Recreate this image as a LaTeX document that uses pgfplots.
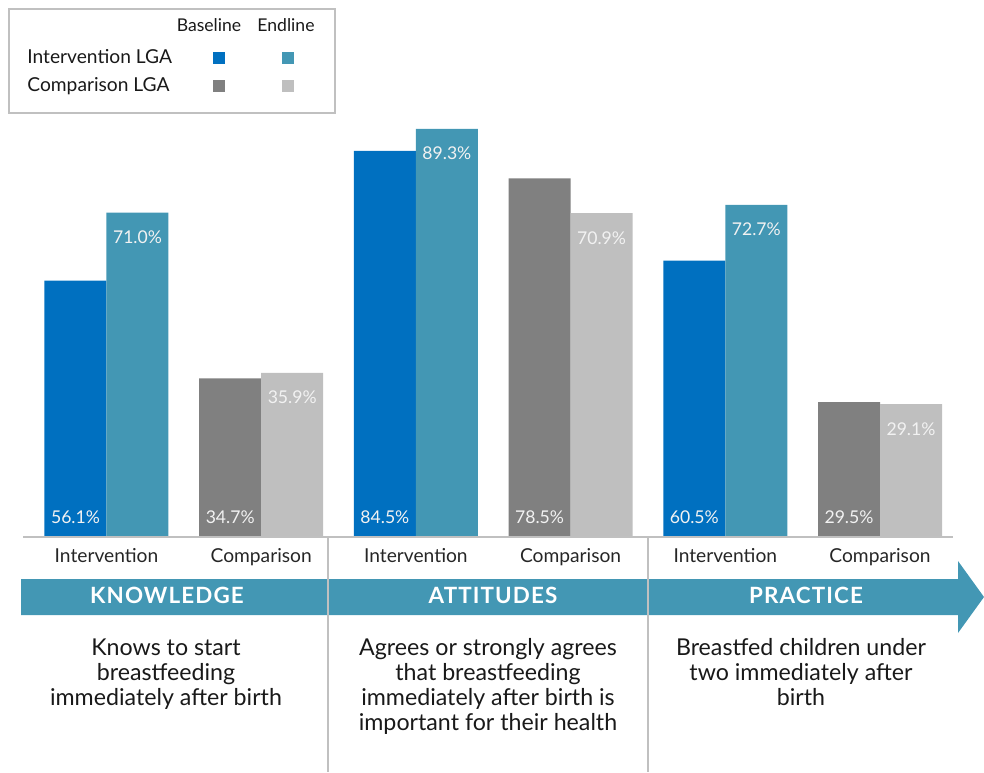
\documentclass[border=0pt]{standalone}
\usepackage{fontspec}
\setmainfont{Lato}
\usepackage{pgfplots}
\pgfplotsset{compat=1.18}
\definecolor{cblue}{HTML}{0070C0}
\definecolor{cteal}{HTML}{4397B4}
\definecolor{cgray}{HTML}{808080}
\definecolor{clight}{HTML}{BFBFBF}
\definecolor{cline}{HTML}{C0C0C0}
\definecolor{lbl}{HTML}{F2F2F2}
\begin{document}
\begin{tikzpicture}
\useasboundingbox (0,0) rectangle (492pt,386pt);
\begin{axis}[
  at={(0,0)}, anchor=south west,
  scale only axis, width=492pt, height=386pt,
  xmin=-0.6884, xmax=5.6723, ymin=-51.42, ymax=117.51,
  axis x line*=middle, axis y line=none,
  x axis line style={draw=none},
  xtick={0,1,2,3,4,5},
  xticklabels={Intervention,Comparison,Intervention,Comparison,Intervention,Comparison},
  major tick length=0pt,
  xticklabel style={font=\fontsize{9.6}{11}\selectfont, anchor=base, yshift=-12.5pt, text=black!85},
  ytick=\empty,
  ybar, bar width=31pt,
  clip=false,
  /pgf/number format/assume math mode=true,
  nodes near coords={\pgfmathprintnumber[fixed,fixed zerofill,precision=1,assume math mode=true]{\pgfplotspointmeta}\%},
  every node near coord/.append style={font=\fontsize{8.8}{10}\selectfont, text=lbl, anchor=base, inner sep=0pt},
]
% baseline bars (no labels at top)
\addplot[fill=cblue, draw=none, bar shift=-15.5pt, nodes near coords={}] coordinates {(0,56.1) (2,84.5) (4,60.5)};
\addplot[fill=cgray, draw=none, bar shift=-15.5pt, nodes near coords={}] coordinates {(1,34.7) (3,78.5) (5,29.5)};
% endline bars with labels near the top
\addplot[fill=cteal, draw=none, bar shift=15.5pt, point meta=y,
  every node near coord/.append style={yshift=-15.5pt}] coordinates {(0,71.0) (2,89.3) (4,72.7)};
\addplot[fill=clight, draw=none, bar shift=15.5pt, point meta=y,
  every node near coord/.append style={yshift=-15.5pt}] coordinates {(1,35.9) (3,70.9) (5,29.1)};
% baseline values written at the foot of the baseline bars
\addplot[draw=none, fill=none, bar shift=-15.5pt, point meta=explicit,
  every node near coord/.append style={yshift=7pt}] coordinates {(0,0) [56.1] (2,0) [84.5] (4,0) [60.5]};
\addplot[draw=none, fill=none, bar shift=-15.5pt, point meta=explicit,
  every node near coord/.append style={yshift=7pt}] coordinates {(1,0) [34.7] (3,0) [78.5] (5,0) [29.5]};
\end{axis}
\begin{scope}[shift={(0,386pt)}, x=0.5pt, y=-0.5pt]
  \draw[cline, line width=1pt] (23,537) -- (953,537);
  \fill[cteal] (21,579) -- (958,579) -- (958,561) -- (984,597) -- (958,633) -- (958,615) -- (21,615) -- cycle;
  \draw[cline, line width=1pt] (328,537) -- (328,772);
  \draw[cline, line width=1pt] (648,537) -- (648,772);
  \begin{scope}[every node/.style={font=\bfseries\fontsize{11.2}{12}\selectfont\addfontfeatures{LetterSpace=5}, text=white, anchor=base, inner sep=0pt}]
    \node at (167,603) {KNOWLEDGE};
    \node at (493,603) {ATTITUDES};
    \node at (806,603) {PRACTICE};
  \end{scope}
  \begin{scope}[every node/.style={font=\fontsize{11.6}{12.5}\selectfont, text=black!90, anchor=north, inner sep=0pt, align=center}]
    \node at (166,638) {Knows to start\\breastfeeding\\immediately after birth};
    \node at (488,638) {Agrees or strongly agrees\\that breastfeeding\\immediately after birth is\\important for their health};
    \node at (801,638) {Breastfed children under\\two immediately after\\birth};
  \end{scope}
  % legend
  \draw[cline, line width=1pt] (9,9) rectangle (335,113);
  \begin{scope}[every node/.style={font=\fontsize{8.8}{10}\selectfont, text=black!90, anchor=base, inner sep=0pt}]
    \node at (209,32) {Baseline};
    \node at (286,32) {Endline};
  \end{scope}
  \begin{scope}[every node/.style={font=\fontsize{9.6}{10}\selectfont, text=black!90, anchor=base west, inner sep=0pt}]
    \node at (27,64) {Intervention LGA};
    \node at (27,92) {Comparison LGA};
  \end{scope}
  \fill[cblue] (213,52) rectangle (225,64);
  \fill[cteal] (282,52) rectangle (294,64);
  \fill[cgray] (213,80) rectangle (225,92);
  \fill[clight] (282,80) rectangle (294,92);
\end{scope}
\end{tikzpicture}
\end{document}
